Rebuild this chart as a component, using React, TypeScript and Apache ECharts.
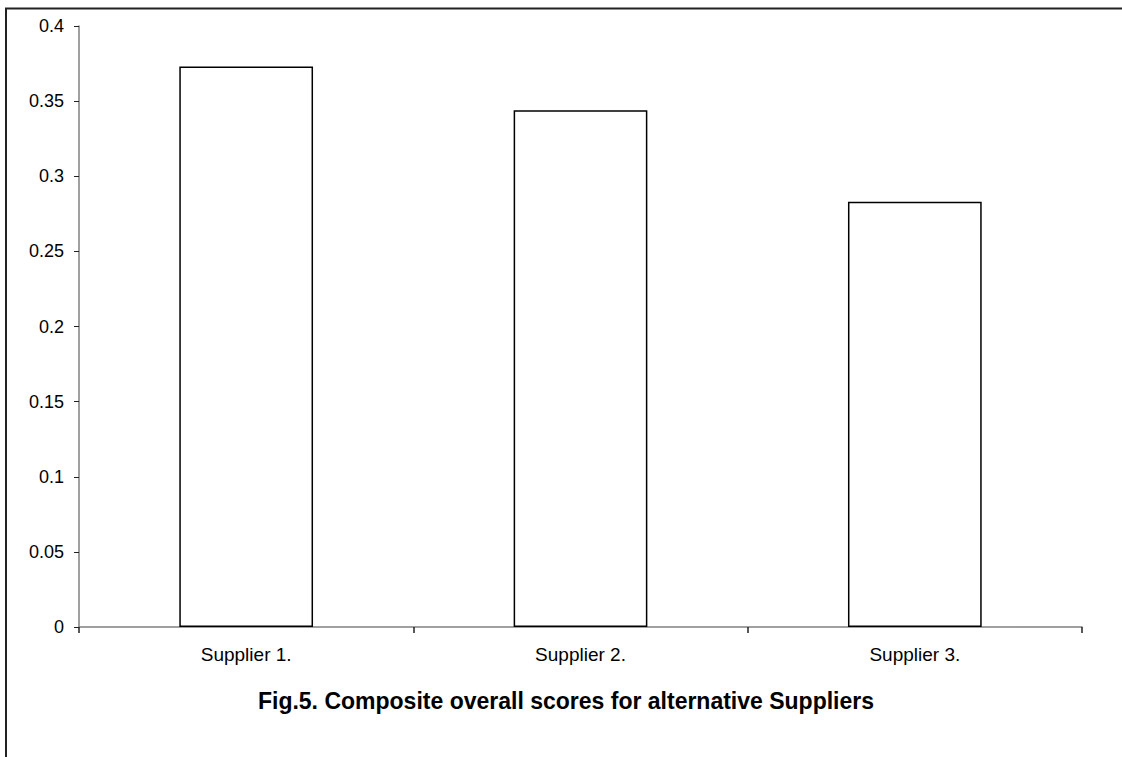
import React, { useEffect, useRef } from "react";
import * as echarts from "echarts";

const categories = ["Supplier 1.", "Supplier 2.", "Supplier 3."];
const scores = [0.373, 0.344, 0.283];
const yTicks = { min: 0, max: 0.4, interval: 0.05 };
const title = "Fig.5. Composite overall scores for alternative Suppliers";

export default function App() {
  const ref = useRef<HTMLDivElement>(null);
  useEffect(() => {
    if (!ref.current) return;
    const chart = echarts.init(ref.current, null, { renderer: "svg" });
    const font = "Arial, 'Liberation Sans', sans-serif";
    chart.setOption({
      animation: false,
      backgroundColor: "#ffffff",
      title: {
        text: title,
        left: 561,
        top: 684,
        textAlign: "center",
        textStyle: { fontFamily: font, fontSize: 23, fontWeight: "bold", color: "#000" },
      },
      graphic: [
        {
          type: "rect",
          shape: { x: 6, y: 8.5, width: 1300, height: 900 },
          style: { fill: "none", stroke: "#222", lineWidth: 2 },
          silent: true,
        },
      ],
      grid: { left: 79, right: 40, top: 26, bottom: 130, containLabel: false },
      xAxis: {
        type: "category",
        data: categories,
        boundaryGap: true,
        axisLine: { lineStyle: { color: "#808080", width: 1.5 } },
        axisTick: { show: true, length: 6, lineStyle: { color: "#222", width: 1.5 } },
        axisLabel: { fontFamily: font, fontSize: 19, color: "#000", margin: 18 },
        splitLine: { show: false },
      },
      yAxis: {
        type: "value",
        min: yTicks.min,
        max: yTicks.max,
        interval: yTicks.interval,
        axisLine: { show: true, lineStyle: { color: "#808080", width: 1.5 } },
        axisTick: { show: true, length: 5, lineStyle: { color: "#222", width: 1 } },
        axisLabel: { fontFamily: font, fontSize: 18, color: "#000", margin: 15 },
        splitLine: { show: false },
      },
      series: [
        {
          type: "bar",
          data: scores,
          barWidth: "40%",
          itemStyle: { color: "#ffffff", borderColor: "#000", borderWidth: 1.5 },
        },
      ],
    });
    return () => chart.dispose();
  }, []);
  return (
    <div
      ref={ref}
      style={{ position: "fixed", left: 0, top: 0, width: 1122, height: 757 }}
    />
  );
}
